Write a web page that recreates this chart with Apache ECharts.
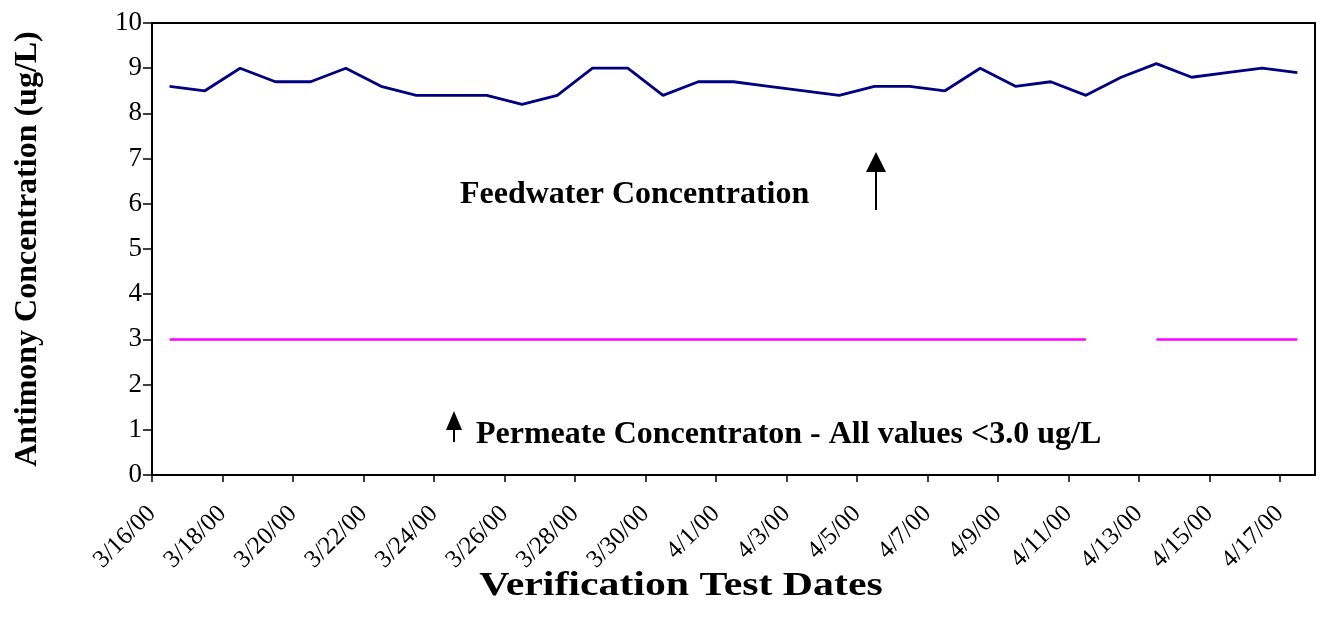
<!DOCTYPE html>
<html>
<head>
<meta charset="utf-8">
<title>Antimony Concentration</title>
<script src="https://cdn.jsdelivr.net/npm/echarts@6/dist/echarts.min.js"></script>
<style>
  html, body { margin: 0; padding: 0; background: #fff; }
  #chart { width: 1324px; height: 629px; }
</style>
</head>
<body>
<div id="chart"></div>
<script>
// one category per test day, labels every second day
const dates = [
  '3/16/00', '3/17/00', '3/18/00', '3/19/00', '3/20/00', '3/21/00', '3/22/00', '3/23/00',
  '3/24/00', '3/25/00', '3/26/00', '3/27/00', '3/28/00', '3/29/00', '3/30/00', '3/31/00',
  '4/1/00', '4/2/00', '4/3/00', '4/4/00', '4/5/00', '4/6/00', '4/7/00', '4/8/00',
  '4/9/00', '4/10/00', '4/11/00', '4/12/00', '4/13/00', '4/14/00', '4/15/00', '4/16/00',
  '4/17/00'
]

const feedwater = [
  8.6, 8.5, 9.0, 8.7, 8.7, 9.0, 8.6, 8.4,
  8.4, 8.4, 8.2, 8.4, 9.0, 9.0, 8.4, 8.7,
  8.7, 8.6, 8.5, 8.4, 8.6, 8.6, 8.5, 9.0,
  8.6, 8.7, 8.4, 8.8, 9.1, 8.8, 8.9, 9.0,
  8.9
]

// permeate reported as the detection limit (<3.0 ug/L), no sample on 4/12
const permeate = [
  3.0, 3.0, 3.0, 3.0, 3.0, 3.0, 3.0, 3.0,
  3.0, 3.0, 3.0, 3.0, 3.0, 3.0, 3.0, 3.0,
  3.0, 3.0, 3.0, 3.0, 3.0, 3.0, 3.0, 3.0,
  3.0, 3.0, 3.0, null, 3.0, 3.0, 3.0, 3.0,
  3.0
]

const yTicks = [0, 1, 2, 3, 4, 5, 6, 7, 8, 9, 10]

const FONT = '"Liberation Serif", "Times New Roman", serif'

// ticks sit on day boundaries, points in the middle of each day
const labelValues = dates.map((d, i) => i).filter(i => i % 2 === 0)
const toPoints = arr => arr.map((v, i) => [i + 0.5, v])

const chart = echarts.init(document.getElementById('chart'))

const arrow = (x, tipY, baseY, endY, half) => [
  {
    type: 'line',
    shape: { x1: x, y1: baseY, x2: x, y2: endY },
    style: { stroke: '#000', lineWidth: 2 }
  },
  {
    type: 'polygon',
    shape: { points: [[x, tipY], [x - half, baseY], [x + half, baseY]] },
    style: { fill: '#000' }
  }
]

chart.setOption({
  animation: false,
  backgroundColor: '#fff',
  grid: {
    left: 152,
    top: 23,
    right: 9,
    bottom: 154,
    show: true,
    borderColor: '#000',
    borderWidth: 2
  },
  xAxis: {
    type: 'value',
    min: 0,
    max: dates.length,
    interval: 2,
    splitLine: { show: false },
    axisLine: { show: true, lineStyle: { color: '#000', width: 2 } },
    axisTick: {
      show: true,
      length: 7,
      customValues: labelValues,
      lineStyle: { color: '#000', width: 1.5 }
    },
    axisLabel: {
      rotate: 45,
      margin: 35,
      customValues: labelValues,
      color: '#000',
      fontFamily: FONT,
      fontSize: 25,
      formatter: v => (v % 2 === 0 && dates[v]) ? dates[v] : ''
    }
  },
  yAxis: {
    type: 'value',
    min: yTicks[0],
    max: yTicks[yTicks.length - 1],
    interval: 1,
    splitLine: { show: false },
    axisLine: { show: true, lineStyle: { color: '#000', width: 2 } },
    axisTick: { show: true, length: 9, lineStyle: { color: '#000', width: 1.5 } },
    axisLabel: {
      margin: 10,
      color: '#000',
      fontFamily: FONT,
      fontSize: 27
    }
  },
  series: [
    {
      name: 'Feedwater',
      type: 'line',
      data: toPoints(feedwater),
      showSymbol: false,
      lineStyle: { color: '#000080', width: 2.8 },
      itemStyle: { color: '#000080' }
    },
    {
      name: 'Permeate',
      type: 'line',
      data: toPoints(permeate),
      showSymbol: false,
      connectNulls: false,
      lineStyle: { color: '#ff00ff', width: 2.5 },
      itemStyle: { color: '#ff00ff' }
    }
  ],
  graphic: [
    {
      type: 'text',
      x: 28,
      y: 249,
      rotation: Math.PI / 2,
      style: {
        text: 'Antimony Concentration (ug/L)',
        font: 'bold 32px ' + FONT,
        fill: '#000',
        align: 'center',
        verticalAlign: 'middle'
      }
    },
    {
      // the original axis title is drawn a bit wider than its height
      type: 'text',
      x: 681,
      y: 586,
      scaleX: 1.23,
      style: {
        text: 'Verification Test Dates',
        font: 'bold 34px ' + FONT,
        fill: '#000',
        align: 'center',
        verticalAlign: 'middle'
      }
    },
    {
      type: 'text',
      x: 460,
      y: 195,
      style: {
        text: 'Feedwater Concentration',
        font: 'bold 32px ' + FONT,
        fill: '#000',
        align: 'left',
        verticalAlign: 'middle'
      }
    },
    {
      type: 'text',
      x: 476,
      y: 435,
      style: {
        text: 'Permeate Concentraton - All values <3.0 ug/L',
        font: 'bold 32px ' + FONT,
        fill: '#000',
        align: 'left',
        verticalAlign: 'middle'
      }
    },
    ...arrow(876, 152, 172, 210, 10),
    ...arrow(454, 411, 430, 442, 8)
  ]
})

window.addEventListener('resize', () => chart.resize())
</script>
</body>
</html>
